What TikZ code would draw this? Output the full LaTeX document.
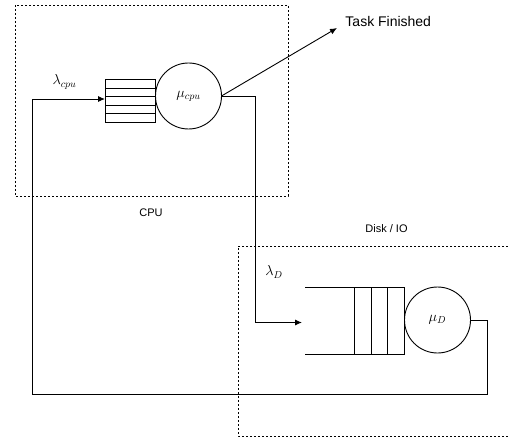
\documentclass[tikz,border=0pt]{standalone}
\usepackage{fontspec}
\setmainfont{Liberation Sans}
\usetikzlibrary{arrows.meta}
\begin{document}
\begin{tikzpicture}[x=1pt,y=-1pt,
  line width=0.9pt,
  grp/.style={draw, dash pattern=on 2pt off 2pt, line width=0.7pt},
  conn/.style={draw, line width=0.9pt},
  arr/.style={conn, -{Latex[length=7pt,width=6pt]}},
  lbl/.style={font=\fontsize{11}{13}\selectfont, inner sep=0pt},
  biglbl/.style={font=\fontsize{14}{16}\selectfont, inner sep=0pt},
  mlbl/.style={font=\fontsize{14.5}{16}\selectfont, inner sep=0pt},
  srv/.style={draw, circle, minimum size=66pt, inner sep=0pt, outer sep=0pt, line width=0.9pt},
  qbox/.style={draw, inner sep=0pt, outer sep=0pt, anchor=north west}
]
\useasboundingbox (0,0) rectangle (508,438);
% group boxes
\draw[grp] (15,5) rectangle (288,196);
\draw[grp] (508,246) -- (238,246) -- (238,436) -- (508,436);
\node[lbl] (cpulbl) at (151,213) {CPU};
\node[lbl] (disklbl) at (386.5,229) {Disk / IO};
% CPU queue
\node[qbox, minimum width=50pt, minimum height=43pt] (cq) at (105,79) {};
\foreach \yy in {88,96.5,105,113.5} \draw (105,\yy) -- (155,\yy);
\node[srv] (cs) at (188.5,96) {};
\node[mlbl] (mucpu) at (cs.center) {$\mu_{cpu}$};
\node[mlbl] (lamcpu) at (64.5,82) {$\lambda_{cpu}$};
% Task finished
\node[biglbl, anchor=west] (task) at (345,22) {Task Finished};
\coordinate (tf) at (337,28);
\draw[arr] (cs.east) -- (tf);
% Disk queue
\coordinate (dqa) at (305,287);
\coordinate (dqb) at (305,354);
\node[qbox, minimum width=50pt, minimum height=67pt] (dq) at (354,287) {};
\draw (dqa) -- (dq.north west);
\draw (dqb) -- (dq.south west);
\draw (371,287) -- (371,354);
\draw (387.5,287) -- (387.5,354);
\node[srv] (ds) at (437.5,320) {};
\node[mlbl] (mud) at (ds.center) {$\mu_D$};
\node[mlbl] (lamd) at (274,272) {$\lambda_D$};
% connectors
\coordinate (din) at (302,322.5);
\draw[arr] (cs.east) -| (255,322.5) -- (din);
\coordinate (qin) at (105,99);
\draw[arr] (ds.east) -| (487,394) -| (32,99) -- (qin);
\end{tikzpicture}
\end{document}
